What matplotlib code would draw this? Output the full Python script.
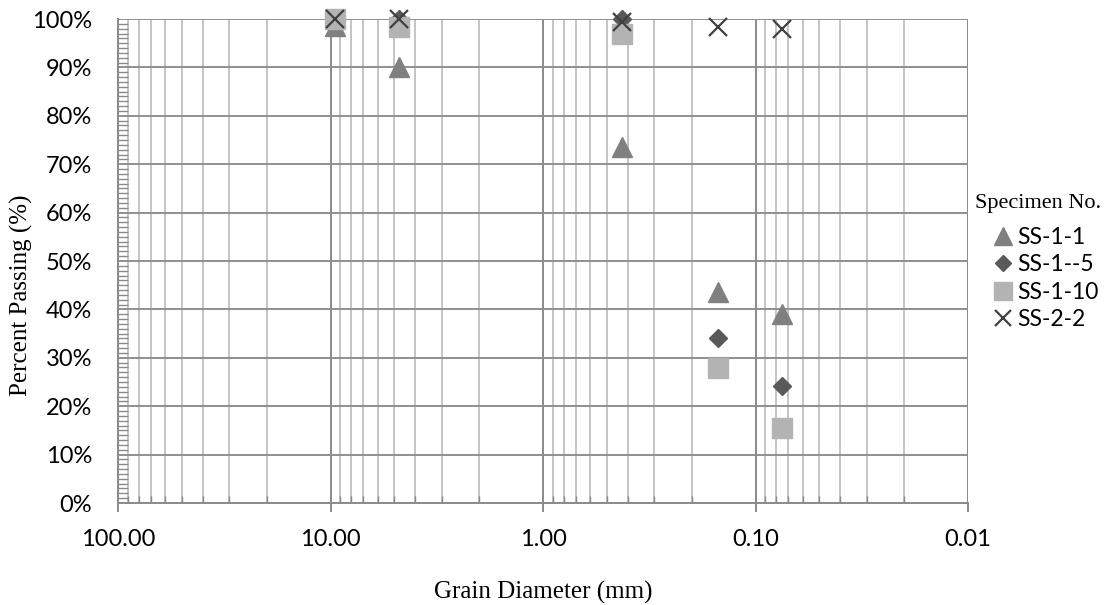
import matplotlib
matplotlib.use("Agg")
import matplotlib.pyplot as plt
from matplotlib.ticker import FixedLocator, MultipleLocator, FuncFormatter

# Sieve sizes (mm) and percent passing for each specimen
grain_sizes = [9.5, 4.75, 0.425, 0.15, 0.075]
ss_1_1 = [98.6, 90.1, 73.6, 43.6, 39.0]
ss_1_5 = [100.0, 100.0, 100.0, 34.1, 24.2]
ss_1_10 = [100.0, 98.3, 96.9, 27.9, 15.5]
ss_2_2 = [100.0, 100.0, 99.4, 98.3, 97.9]

x_ticks = [100, 10, 1, 0.1, 0.01]
x_tick_labels = ['100.00', '10.00', '1.00', '0.10', '0.01']

sans = 'Lato'
serif = 'Liberation Serif'

fig = plt.figure(figsize=(11.2, 6.05), dpi=100)
ax = fig.add_axes([118 / 1120, 1 - 503 / 605, 850 / 1120, 484 / 605])

# log axis, reversed (coarse to fine)
ax.set_xscale('log')
ax.set_xlim(100, 0.01)
ax.set_ylim(0, 100)
ax.xaxis.set_major_locator(FixedLocator(x_ticks))
ax.xaxis.set_major_formatter(FuncFormatter(lambda v, p: x_tick_labels[x_ticks.index(v)] if v in x_ticks else ''))
minor = [m * 10.0 ** e for e in range(-2, 2) for m in range(2, 10)]
ax.xaxis.set_minor_locator(FixedLocator(minor))
ax.xaxis.set_minor_formatter(FuncFormatter(lambda v, p: ''))
ax.yaxis.set_major_locator(MultipleLocator(10))
ax.yaxis.set_minor_locator(MultipleLocator(1))
ax.yaxis.set_major_formatter(FuncFormatter(lambda v, p: f'{v:.0f}%'))

# gridlines
ax.grid(True, which='minor', axis='x', color='#c4c4c4', linewidth=1.4)
ax.grid(True, which='major', axis='x', color='#8a8a8a', linewidth=1.4)
ax.grid(True, which='major', axis='y', color='#8f8f8f', linewidth=1.4)
ax.set_axisbelow(True)

for s in ['top', 'right']:
    ax.spines[s].set_visible(False)
for s in ['left', 'bottom']:
    ax.spines[s].set_color('#8a8a8a')
    ax.spines[s].set_linewidth(1.4)

ax.tick_params(axis='x', which='major', direction='out', length=6.5, width=1.4, color='#8a8a8a',
               labelsize=17, pad=12)
ax.tick_params(axis='x', which='minor', direction='in', length=5, width=1.0, color='#8a8a8a')
ax.tick_params(axis='y', which='major', direction='in', length=0, labelsize=17, pad=18.5)
ax.tick_params(axis='y', which='minor', direction='in', length=7, width=1.0, color='#8a8a8a')
for lab in ax.get_xticklabels() + ax.get_yticklabels():
    lab.set_fontfamily(sans)

# markers
ax.plot(grain_sizes, ss_1_1, linestyle='none', marker='^', markersize=14, color='#808080',
        label='SS-1-1', clip_on=False)
ax.plot(grain_sizes, ss_1_5, linestyle='none', marker='D', markersize=9.5, color='#595959',
        label='SS-1--5', clip_on=False)
ax.plot(grain_sizes, ss_1_10, linestyle='none', marker='s', markersize=14, color='#b3b3b3',
        label='SS-1-10', clip_on=False)
ax.plot(grain_sizes, ss_2_2, linestyle='none', marker='x', markersize=13.5, markeredgewidth=1.6,
        color='#404040', label='SS-2-2', clip_on=False)

ax.set_xlabel('Grain Diameter (mm)', fontfamily=serif, fontsize=18)
ax.xaxis.set_label_coords(0.5, -0.16)
ax.set_ylabel('Percent Passing (%)', fontfamily=serif, fontsize=18)
ax.yaxis.set_label_coords(-0.1, 0.43)

# legend
fig.text(975 / 1120, 1 - 203 / 605, 'Specimen No.', fontfamily=serif, fontsize=16,
         ha='left', va='center')
ax.legend(loc='upper left', bbox_to_anchor=(992 / 1120, 1 - 227 / 605), bbox_transform=fig.transFigure,
          frameon=False, prop={'family': sans, 'size': 16.5}, handletextpad=0.1,
          handlelength=1.0, labelspacing=0.28, borderpad=0, borderaxespad=0, markerscale=0.9)

fig.savefig('out.png', dpi=100)
